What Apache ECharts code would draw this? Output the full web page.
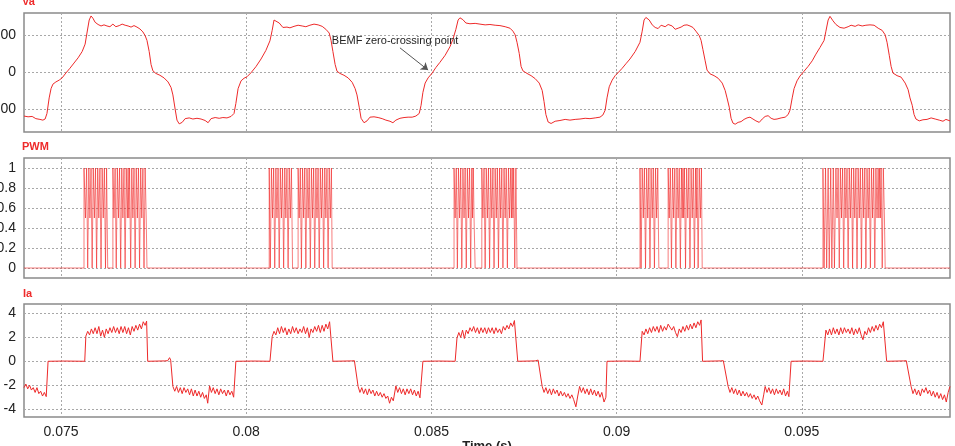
<!DOCTYPE html>
<html>
<head>
<meta charset="utf-8">
<script src="https://cdn.jsdelivr.net/npm/echarts@6/dist/echarts.min.js"></script>
<style>
html,body{margin:0;padding:0;background:#fff;}
#chart{width:955px;height:446px;}
</style>
</head>
<body>
<div id="chart"></div>
<script>
// ---- Data (time in ms, converted to seconds for the axis) ----
const xTicks = [0.075, 0.08, 0.085, 0.09, 0.095];
const vaTicks = [-100, 0, 100];
const pwmTicks = [0, 0.2, 0.4, 0.6, 0.8, 1];
const iaTicks = [-4, -2, 0, 2, 4];
const panelNames = ['Va', 'PWM', 'Ia'];
const annotationText = 'BEMF zero-crossing point';

const vaPoints = [
[74.00,-119],[74.11,-121],[74.22,-120],[74.32,-126],[74.43,-128],[74.51,-130],[74.57,-127],[74.62,-112],[74.68,-70],[74.73,-45],[74.78,-33],[74.86,-27],[74.95,-22],[75.03,-16],[75.13,-3],[75.24,10],[75.35,24],[75.46,38],[75.57,55],[75.65,75],[75.70,105],[75.76,140],[75.81,151],[75.86,145],[75.92,134],[76.00,128],[76.08,124],[76.16,127],[76.24,124],[76.32,122],[76.40,129],[76.48,122],[76.57,125],[76.65,129],[76.73,126],[76.81,124],[76.89,121],[76.97,125],[77.05,121],[77.13,116],[77.21,108],[77.27,98],[77.32,85],[77.38,55],[77.43,20],[77.48,3],[77.56,-4],[77.67,-9],[77.78,-16],[77.89,-27],[77.97,-42],[78.02,-62],[78.08,-100],[78.13,-130],[78.19,-140],[78.27,-136],[78.35,-126],[78.46,-124],[78.56,-127],[78.67,-125],[78.78,-127],[78.89,-131],[78.97,-137],[79.05,-126],[79.16,-123],[79.27,-125],[79.37,-123],[79.48,-124],[79.59,-120],[79.67,-112],[79.72,-85],[79.78,-45],[79.86,-24],[79.94,-17],[80.02,-13],[80.13,-2],[80.26,14],[80.40,35],[80.53,58],[80.64,84],[80.70,112],[80.75,140],[80.80,139],[80.89,132],[80.99,120],[81.10,121],[81.18,119],[81.29,123],[81.40,126],[81.51,124],[81.61,122],[81.72,126],[81.83,129],[81.94,127],[82.05,123],[82.15,115],[82.24,105],[82.29,85],[82.34,55],[82.40,20],[82.45,2],[82.53,-4],[82.64,-9],[82.75,-16],[82.86,-28],[82.94,-45],[82.99,-62],[83.05,-95],[83.10,-125],[83.18,-137],[83.26,-132],[83.34,-122],[83.45,-121],[83.56,-123],[83.67,-126],[83.77,-130],[83.88,-133],[83.96,-137],[84.04,-130],[84.15,-125],[84.26,-123],[84.37,-122],[84.48,-122],[84.58,-119],[84.67,-112],[84.72,-90],[84.77,-55],[84.83,-30],[84.91,-16],[85.02,-3],[85.12,12],[85.23,26],[85.37,45],[85.50,68],[85.58,88],[85.66,115],[85.72,140],[85.77,146],[85.85,141],[85.93,132],[86.04,130],[86.18,131],[86.31,129],[86.45,127],[86.58,128],[86.72,126],[86.85,125],[86.99,122],[87.12,118],[87.20,110],[87.26,100],[87.31,80],[87.37,50],[87.42,15],[87.47,3],[87.58,-4],[87.69,-10],[87.80,-18],[87.91,-30],[87.99,-50],[88.04,-80],[88.09,-115],[88.15,-135],[88.23,-139],[88.34,-133],[88.47,-131],[88.61,-128],[88.74,-130],[88.88,-128],[89.01,-127],[89.15,-125],[89.28,-126],[89.42,-124],[89.55,-122],[89.63,-116],[89.69,-103],[89.74,-70],[89.80,-40],[89.88,-22],[89.96,-10],[90.04,-2],[90.15,10],[90.25,22],[90.36,35],[90.50,55],[90.63,80],[90.69,110],[90.74,140],[90.79,147],[90.88,140],[90.96,127],[91.04,120],[91.12,117],[91.20,126],[91.25,130],[91.31,122],[91.39,128],[91.44,132],[91.50,124],[91.58,115],[91.66,118],[91.74,121],[91.82,126],[91.90,127],[91.98,124],[92.06,120],[92.14,110],[92.23,98],[92.28,85],[92.33,60],[92.39,30],[92.44,5],[92.52,-5],[92.63,-10],[92.74,-17],[92.85,-30],[92.93,-50],[92.98,-70],[93.04,-95],[93.09,-125],[93.14,-138],[93.20,-141],[93.28,-136],[93.36,-134],[93.44,-128],[93.52,-124],[93.60,-122],[93.68,-127],[93.76,-132],[93.85,-136],[93.93,-127],[94.01,-120],[94.09,-118],[94.17,-125],[94.25,-128],[94.33,-127],[94.44,-124],[94.55,-122],[94.63,-115],[94.68,-103],[94.74,-70],[94.79,-45],[94.87,-24],[94.95,-11],[95.06,2],[95.17,15],[95.28,30],[95.38,48],[95.49,66],[95.60,85],[95.65,110],[95.71,140],[95.76,150],[95.84,138],[95.92,128],[96.03,120],[96.14,118],[96.25,122],[96.33,126],[96.44,123],[96.52,127],[96.63,124],[96.73,126],[96.84,127],[96.95,126],[97.06,118],[97.17,112],[97.25,100],[97.30,80],[97.36,45],[97.41,15],[97.46,-3],[97.57,-10],[97.68,-14],[97.79,-30],[97.87,-48],[97.92,-70],[97.98,-90],[98.03,-115],[98.08,-127],[98.17,-132],[98.27,-129],[98.38,-128],[98.49,-124],[98.60,-127],[98.71,-130],[98.81,-133],[98.89,-128],[99.00,-132]
];

const pwmPoints = [
[74.00,0],
[75.62,1],[75.66,0.5],[75.69,1],[75.72,0],[75.75,1],[75.78,0.5],[75.81,1],[75.84,0],[75.87,1],[75.90,0.5],[75.93,1],[75.96,0],[75.99,1],[76.02,0.5],[76.05,1],[76.08,0],[76.11,1],[76.14,0.5],[76.17,1],[76.20,0],[76.23,1],[76.26,0],
[76.40,1],[76.43,0.5],[76.46,1],[76.49,0],[76.52,1],[76.55,0.5],[76.58,1],[76.61,0],[76.64,1],[76.67,0.5],[76.70,1],[76.73,0],[76.76,1],[76.79,0.5],[76.81,1],[76.83,0.5],[76.85,1],[76.88,0],[76.91,1],[76.94,0.5],[76.97,1],[77.00,0],[77.03,1],[77.06,0.5],[77.09,1],[77.12,0],[77.15,1],[77.18,0.5],[77.21,1],[77.24,0],[77.27,1],[77.30,0.5],[77.32,0],
[80.62,1],[80.65,0],[80.68,1],[80.71,0.5],[80.74,1],[80.77,0],[80.80,1],[80.83,0.5],[80.86,1],[80.89,0],[80.92,1],[80.95,0.5],[80.98,1],[81.01,0],[81.04,1],[81.07,0.5],[81.10,1],[81.13,0],[81.16,1],[81.19,0.5],[81.22,1],[81.25,0],
[81.40,1],[81.43,0.5],[81.46,1],[81.49,0],[81.52,1],[81.55,0.5],[81.58,1],[81.61,0],[81.64,1],[81.67,0.5],[81.70,1],[81.73,0],[81.76,1],[81.79,0.5],[81.82,1],[81.85,0],[81.88,1],[81.91,0.5],[81.94,1],[81.97,0],[82.00,1],[82.03,0.5],[82.06,1],[82.09,0],[82.12,1],[82.15,0.5],[82.18,1],[82.21,0],[82.24,1],[82.27,0.5],[82.30,1],[82.32,0],
[85.61,1],[85.64,0.5],[85.67,1],[85.70,0],[85.73,1],[85.76,0.5],[85.79,1],[85.82,0],[85.85,1],[85.88,0.5],[85.91,1],[85.94,0],[85.97,1],[86.00,0.5],[86.03,1],[86.06,0],[86.09,1],[86.11,0.5],[86.13,1],[86.15,0.5],[86.18,0],
[86.36,1],[86.39,0.5],[86.42,1],[86.45,0],[86.48,1],[86.51,0.5],[86.54,1],[86.57,0],[86.60,1],[86.63,0.5],[86.66,1],[86.69,0],[86.72,1],[86.75,0.5],[86.78,1],[86.81,0],[86.84,1],[86.87,0.5],[86.90,1],[86.93,0],[86.96,1],[86.99,0.5],[87.02,1],[87.05,0],[87.08,1],[87.11,0.5],[87.14,1],[87.16,0.5],[87.18,1],[87.20,0.5],[87.22,1],[87.25,0],[87.28,1],[87.31,0],
[90.63,1],[90.66,0],[90.69,1],[90.72,0.5],[90.75,1],[90.78,0],[90.81,1],[90.84,0.5],[90.87,1],[90.90,0],[90.93,1],[90.96,0.5],[90.99,1],[91.02,0],[91.05,1],[91.08,0.5],[91.11,1],[91.14,0],
[91.39,1],[91.42,0.5],[91.45,1],[91.48,0],[91.51,1],[91.54,0.5],[91.57,1],[91.60,0],[91.63,1],[91.66,0.5],[91.69,1],[91.72,0],[91.75,1],[91.77,0.5],[91.79,1],[91.81,0.5],[91.83,1],[91.86,0],[91.89,1],[91.92,0.5],[91.95,1],[91.98,0],[92.01,1],[92.04,0.5],[92.07,1],[92.10,0],[92.13,1],[92.15,0.5],[92.17,1],[92.20,0],[92.23,1],[92.26,0.5],[92.29,1],[92.31,0],
[95.57,1],[95.60,0],[95.64,1],[95.67,0],[95.71,1],[95.74,0],[95.78,1],[95.81,0],[95.85,1],[95.88,0],[95.92,1],[95.95,0.5],[95.98,1],[96.01,0],[96.04,1],[96.07,0.5],[96.10,1],[96.13,0],[96.16,1],[96.19,0.5],[96.22,1],[96.25,0],[96.28,1],[96.31,0.5],[96.34,1],[96.37,0],[96.40,1],[96.43,0.5],[96.46,1],[96.49,0],[96.52,1],[96.55,0.5],[96.58,1],[96.61,0],[96.64,1],[96.67,0.5],[96.70,1],[96.73,0],[96.76,1],[96.79,0.5],[96.82,1],[96.85,0],[96.88,1],[96.91,0.5],[96.94,1],[96.97,0],[97.00,1],[97.03,0.5],[97.06,1],[97.08,0.5],[97.10,1],[97.12,0.5],[97.14,1],[97.17,0],[97.20,1],[97.23,0.5],[97.25,0],
[99.00,0]
];

const iaPoints = [
[74.00,-2.2],[74.05,-1.9],[74.10,-2.3],[74.15,-2.0],[74.20,-2.4],[74.25,-2.2],[74.30,-2.6],[74.35,-2.2],[74.40,-2.7],[74.45,-2.5],[74.50,-2.9],[74.55,-2.6],[74.60,-2.95],[74.63,-2.8],[74.65,0],[75.10,0.02],[75.64,0],
[75.67,2.1],[75.72,2.5],[75.77,2.2],[75.82,2.7],[75.87,2.3],[75.92,2.8],[75.97,2.3],[76.02,2.9],[76.07,2.1],[76.12,2.6],[76.17,2.0],[76.22,2.7],[76.27,2.3],[76.32,2.8],[76.37,2.4],[76.42,2.9],[76.47,2.4],[76.52,2.8],[76.57,2.3],[76.62,2.9],[76.67,2.4],[76.72,2.9],[76.77,2.3],[76.82,2.8],[76.87,2.2],[76.92,2.9],[76.97,2.5],[77.02,3.0],[77.07,2.6],[77.12,3.1],[77.17,2.7],[77.22,3.3],[77.27,3.0],[77.31,3.35],[77.34,0],[77.80,0.03],[77.88,0.05],[77.93,0.3],[77.96,0.1],
[78.02,-2.1],[78.07,-2.5],[78.12,-2.1],[78.17,-2.6],[78.22,-2.2],[78.27,-2.7],[78.32,-2.2],[78.37,-2.6],[78.42,-2.3],[78.47,-2.8],[78.52,-2.3],[78.57,-2.9],[78.62,-2.4],[78.67,-2.9],[78.72,-2.5],[78.77,-3.0],[78.82,-2.6],[78.87,-3.1],[78.92,-2.8],[78.96,-3.5],[79.01,-2.05],[79.06,-2.6],[79.11,-2.2],[79.16,-2.7],[79.21,-2.3],[79.26,-2.8],[79.31,-2.3],[79.36,-2.7],[79.41,-2.4],[79.46,-2.9],[79.51,-2.4],[79.56,-2.8],[79.61,-2.5],[79.66,-3.0],[79.69,-2.9],[79.72,0],[80.20,0.02],[80.64,0],
[80.70,2.05],[80.75,2.5],[80.80,2.2],[80.85,2.8],[80.90,2.3],[80.95,2.9],[81.00,2.4],[81.05,2.8],[81.10,2.2],[81.15,2.7],[81.20,2.3],[81.25,2.9],[81.30,2.4],[81.35,2.8],[81.40,2.3],[81.45,2.7],[81.50,2.4],[81.55,2.9],[81.60,2.3],[81.65,2.8],[81.70,2.0],[81.75,2.7],[81.80,2.4],[81.85,2.9],[81.90,2.5],[81.95,3.0],[82.00,2.4],[82.05,3.0],[82.10,2.5],[82.15,3.1],[82.20,2.7],[82.25,3.3],[82.30,3.45],[82.34,0],[82.85,0.03],[82.92,0.05],[82.96,0.2],
[83.02,-2.1],[83.07,-2.6],[83.12,-2.2],[83.17,-2.7],[83.22,-2.3],[83.27,-2.8],[83.32,-2.3],[83.37,-2.7],[83.42,-2.4],[83.47,-2.9],[83.52,-2.5],[83.57,-2.9],[83.62,-2.6],[83.67,-3.0],[83.72,-2.7],[83.77,-3.1],[83.82,-2.9],[83.87,-3.5],[83.92,-3.0],[83.97,-3.3],[84.04,-2.05],[84.09,-2.6],[84.14,-2.2],[84.19,-2.7],[84.24,-2.3],[84.29,-2.8],[84.34,-2.3],[84.39,-2.7],[84.44,-2.3],[84.49,-2.8],[84.54,-2.4],[84.59,-2.9],[84.64,-2.5],[84.69,-3.05],[84.74,-2.9],[84.77,0],[85.20,0.02],[85.64,0],
[85.69,1.95],[85.74,2.4],[85.79,2.0],[85.84,2.6],[85.89,1.9],[85.94,2.6],[85.99,2.3],[86.04,2.8],[86.09,2.5],[86.14,2.9],[86.19,2.4],[86.24,2.8],[86.29,2.3],[86.34,2.8],[86.39,2.4],[86.44,2.8],[86.49,2.3],[86.54,2.8],[86.59,2.4],[86.64,2.8],[86.69,2.3],[86.74,2.8],[86.79,2.4],[86.84,2.7],[86.89,2.3],[86.94,2.9],[86.99,2.6],[87.04,3.0],[87.09,2.7],[87.14,3.2],[87.19,2.9],[87.24,3.4],[87.29,3.3],[87.33,0],[87.80,0.03],[87.88,0.1],[87.92,0.25],
[87.99,-2.1],[88.04,-2.6],[88.09,-2.2],[88.14,-2.7],[88.19,-2.3],[88.24,-2.8],[88.29,-2.3],[88.34,-2.7],[88.39,-2.4],[88.44,-2.9],[88.49,-2.5],[88.54,-2.9],[88.59,-2.6],[88.64,-3.0],[88.69,-2.7],[88.74,-3.1],[88.79,-2.8],[88.84,-3.2],[88.90,-3.8],[88.95,-2.9],[89.00,-2.1],[89.05,-2.6],[89.10,-2.2],[89.15,-2.7],[89.20,-2.3],[89.25,-2.8],[89.30,-2.3],[89.35,-2.8],[89.40,-2.4],[89.45,-2.9],[89.50,-2.5],[89.55,-3.0],[89.60,-2.6],[89.66,-3.4],[89.71,-3.0],[89.74,0],[90.20,0.02],[90.63,0],
[90.69,2.5],[90.74,2.2],[90.79,2.7],[90.84,2.3],[90.89,2.8],[90.94,2.4],[90.99,2.9],[91.04,2.5],[91.09,2.9],[91.14,2.4],[91.19,3.0],[91.24,2.5],[91.29,2.9],[91.34,2.6],[91.39,3.1],[91.44,3.2],[91.49,2.6],[91.54,2.9],[91.59,2.4],[91.64,2.05],[91.69,2.7],[91.74,2.4],[91.79,2.9],[91.84,2.5],[91.89,3.0],[91.94,2.6],[91.99,3.1],[92.04,2.7],[92.09,3.2],[92.14,2.8],[92.19,3.3],[92.24,3.0],[92.28,3.45],[92.32,0],[92.80,0.03],[92.88,0.05],[92.93,0.2],
[93.01,-2.1],[93.06,-2.6],[93.11,-2.2],[93.16,-2.7],[93.21,-2.3],[93.26,-2.8],[93.31,-2.4],[93.36,-2.9],[93.41,-2.5],[93.46,-2.9],[93.51,-2.6],[93.56,-3.0],[93.61,-2.7],[93.66,-3.1],[93.71,-2.8],[93.76,-3.2],[93.81,-2.9],[93.86,-3.3],[93.92,-3.65],[93.97,-2.8],[94.01,-2.1],[94.06,-2.6],[94.11,-2.2],[94.16,-2.7],[94.21,-2.3],[94.26,-2.8],[94.31,-2.3],[94.36,-2.7],[94.41,-2.4],[94.46,-2.8],[94.51,-2.3],[94.56,-2.9],[94.61,-2.5],[94.65,-2.95],[94.68,-2.8],[94.71,0],[95.10,0.02],[95.57,0],
[95.65,2.6],[95.70,2.2],[95.75,2.7],[95.80,2.2],[95.85,2.8],[95.90,2.3],[95.95,2.7],[96.00,2.2],[96.05,2.8],[96.10,2.3],[96.15,2.8],[96.20,2.4],[96.25,2.7],[96.30,2.3],[96.35,2.8],[96.40,2.2],[96.45,2.7],[96.50,2.3],[96.55,2.8],[96.60,2.2],[96.65,1.8],[96.70,2.5],[96.75,2.2],[96.80,2.8],[96.85,2.4],[96.90,2.9],[96.95,2.5],[97.00,3.0],[97.05,2.6],[97.10,3.1],[97.15,2.8],[97.20,3.3],[97.25,3.45],[97.29,0],[97.75,0.03],[97.82,0.05],[97.87,0.15],
[97.95,-2.1],[98.00,-2.7],[98.05,-2.3],[98.10,-2.8],[98.15,-2.4],[98.20,-2.9],[98.25,-2.3],[98.30,-2.6],[98.35,-2.2],[98.40,-2.7],[98.45,-2.4],[98.50,-2.9],[98.55,-2.5],[98.60,-3.0],[98.65,-2.6],[98.70,-3.1],[98.75,-2.7],[98.80,-3.2],[98.85,-2.8],[98.90,-3.4],[98.95,-2.6],[99.00,-2.1]
];

// annotation anchor (ms, V)
const annotationLabelAt = [84.02, 84];
const annotationArrowFrom = [84.15, 65];
const annotationArrowTo = [84.91, 5];

// ---- Chart ----
const toSec = pts => pts.map(p => [p[0] / 1000, p[1]]);
const FONT = '"Liberation Sans", Arial, Helvetica, sans-serif';
const RED = '#ee2a2a';
const gridLine = { show: true, lineStyle: { color: '#a8a8a8', width: 1, type: [2, 2] } };

function xAxis(idx, showLabels) {
  return {
    type: 'value', gridIndex: idx, min: 0.074, max: 0.099,
    axisLine: { show: false },
    axisTick: { show: false, customValues: xTicks },
    splitLine: gridLine,
    axisLabel: showLabels ? {
      show: true, customValues: xTicks, color: '#222', fontSize: 14, margin: 8,
      fontFamily: FONT, formatter: v => String(+v.toFixed(3))
    } : { show: false, customValues: xTicks },
    name: showLabels ? 'Time (s)' : '',
    nameLocation: 'middle', nameGap: 19,
    nameTextStyle: { color: '#222', fontSize: 13, fontFamily: FONT, fontWeight: 'bold' }
  };
}
function yAxis(idx, min, max, ticks) {
  return {
    type: 'value', gridIndex: idx, min: min, max: max,
    axisLine: { show: false },
    axisTick: { show: false, customValues: ticks },
    splitLine: gridLine,
    axisLabel: { customValues: ticks, color: '#222', fontSize: 14, margin: 8, fontFamily: FONT,
      formatter: v => String(+v.toFixed(2)) }
  };
}
const titleStyle = { color: RED, fontSize: 11, fontWeight: 'bold', fontFamily: FONT };
const gridBase = { left: 24, right: 5, show: true, borderColor: '#8a8a8a', borderWidth: 1.5,
  backgroundColor: 'transparent', containLabel: false, outerBoundsMode: 'none' };

const option = {
  backgroundColor: '#fff',
  animation: false,
  title: [
    { text: panelNames[0], left: 22, top: -4, padding: 0, textStyle: titleStyle },
    { text: panelNames[1], left: 22, top: 141, padding: 0, textStyle: titleStyle },
    { text: panelNames[2], left: 23, top: 288, padding: 0, textStyle: titleStyle }
  ],
  grid: [
    Object.assign({ top: 13, height: 119 }, gridBase),
    Object.assign({ top: 158, height: 120 }, gridBase),
    Object.assign({ top: 304, height: 113 }, gridBase)
  ],
  xAxis: [xAxis(0, false), xAxis(1, false), xAxis(2, true)],
  yAxis: [yAxis(0, -162, 159, vaTicks), yAxis(1, -0.1, 1.1, pwmTicks), yAxis(2, -4.65, 4.78, iaTicks)],
  series: [
    {
      type: 'line', xAxisIndex: 0, yAxisIndex: 0, data: toSec(vaPoints),
      showSymbol: false, lineStyle: { color: RED, width: 1 },
      markLine: {
        silent: true, symbol: ['none', 'arrow'], symbolSize: 7, animation: false,
        lineStyle: { color: '#555', width: 1, type: 'solid' }, label: { show: false },
        data: [[{ coord: [annotationArrowFrom[0] / 1000, annotationArrowFrom[1]] },
                { coord: [annotationArrowTo[0] / 1000, annotationArrowTo[1]] }]]
      },
      markPoint: {
        silent: true, symbol: 'circle', symbolSize: 1, itemStyle: { color: 'rgba(0,0,0,0)' },
        label: { show: true, position: 'inside', formatter: annotationText, color: '#222', fontSize: 11, fontFamily: FONT },
        data: [{ coord: [annotationLabelAt[0] / 1000, annotationLabelAt[1]] }]
      }
    },
    {
      type: 'line', xAxisIndex: 1, yAxisIndex: 1, data: toSec(pwmPoints), step: 'end',
      showSymbol: false, lineStyle: { color: 'rgba(240,20,20,0.55)', width: 1 }
    },
    {
      type: 'line', xAxisIndex: 2, yAxisIndex: 2, data: toSec(iaPoints),
      showSymbol: false, lineStyle: { color: RED, width: 1 }
    }
  ]
};
const chart = echarts.init(document.getElementById('chart'), null, { renderer: 'canvas' });
chart.setOption(option);
</script>
</body>
</html>
